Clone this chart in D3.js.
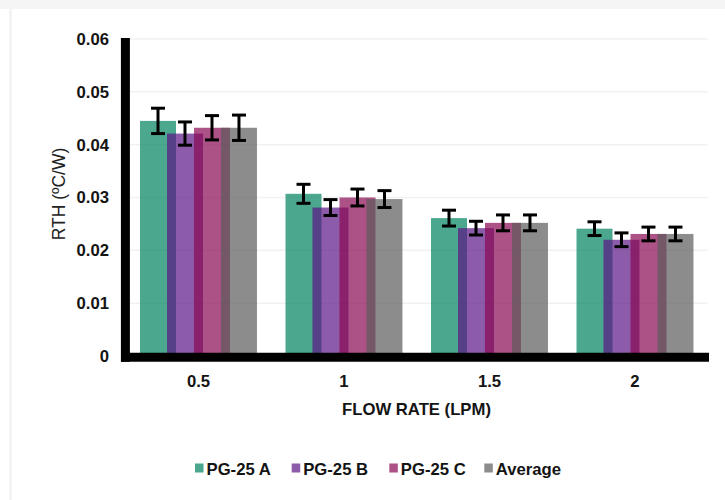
<!DOCTYPE html>
<html>
<head>
<meta charset="utf-8">
<script src="https://cdn.jsdelivr.net/npm/d3@7/dist/d3.min.js"></script>
<style>
  html, body { margin: 0; padding: 0; background: #fff; }
  svg { display: block; }
  text { font-family: "Liberation Sans", Arial, sans-serif; }
</style>
</head>
<body>
<svg id="chart" width="725" height="500"></svg>
<script>
// ---- Data ----
const categories = ["0.5", "1", "1.5", "2"];
const seriesNames = ["PG-25 A", "PG-25 B", "PG-25 C", "Average"];
const valuesA   = [0.0445, 0.0307, 0.0261, 0.0241];
const valuesB   = [0.0421, 0.0281, 0.0242, 0.0220];
const valuesC   = [0.0432, 0.0300, 0.0252, 0.0231];
const valuesAvg = [0.0432, 0.0297, 0.0252, 0.0231];
const errA   = [0.0024, 0.0018, 0.0015, 0.0013];
const errB   = [0.0022, 0.0015, 0.0013, 0.0013];
const errC   = [0.0023, 0.0016, 0.0015, 0.0013];
const errAvg = [0.0024, 0.0016, 0.0015, 0.0013];
const yTicks = [0, 0.01, 0.02, 0.03, 0.04, 0.05, 0.06];
const yTickLabels = ["0", "0.01", "0.02", "0.03", "0.04", "0.05", "0.06"];
const xTitle = "FLOW RATE (LPM)";
const yTitle = "RTH (ºC/W)";

const seriesValues = [valuesA, valuesB, valuesC, valuesAvg];
const seriesErrors = [errA, errB, errC, errAvg];
const colors = ["#00815f", "#5b1584", "#8a0854", "#5b5b5b"];

const svg = d3.select("#chart");

// frame
svg.append("rect").attr("x", 0).attr("y", 0).attr("width", 725).attr("height", 9).attr("fill", "#f5f5f5");
svg.append("rect").attr("x", 9).attr("y", 9).attr("width", 3).attr("height", 491).attr("fill", "#f3f3f3");

// ---- Scales ----
const plotLeft = 125.75, plotRight = 707.75;
const x0 = d3.scaleBand().domain(categories).range([plotLeft, plotRight]).paddingInner(0).paddingOuter(0);
const bw = x0.bandwidth();
const x1 = d3.scaleBand().domain(seriesNames).range([bw * 0.098, bw * 0.840]).padding(0);
const barW = x1.step() * 4 / 3;
const y = d3.scaleLinear().domain([0, 0.06]).range([356, 39]);

// gridlines
svg.append("g").selectAll("line").data(yTicks.slice(1)).join("line")
  .attr("x1", 130).attr("x2", plotRight)
  .attr("y1", d => y(d)).attr("y2", d => y(d))
  .attr("stroke", "#f1f1f1").attr("stroke-width", 1.5);

// ---- Bars ----
const barsG = svg.append("g");
seriesNames.forEach((name, si) => {
  barsG.append("g").selectAll("rect").data(categories).join("rect")
    .attr("x", (c) => x0(c) + x1(name))
    .attr("y", (c, i) => y(seriesValues[si][i]))
    .attr("width", barW)
    .attr("height", (c, i) => y(0) - y(seriesValues[si][i]))
    .attr("fill", colors[si])
    .attr("fill-opacity", 0.7);
});

// ---- Error bars ----
const errG = svg.append("g").attr("stroke", "#000").attr("stroke-width", 3);
seriesNames.forEach((name, si) => {
  categories.forEach((c, i) => {
    const cx = x0(c) + x1(name) + barW / 2;
    const v = seriesValues[si][i], e = seriesErrors[si][i];
    const yt = y(v + e), yb = y(v - e);
    errG.append("line").attr("x1", cx).attr("x2", cx).attr("y1", yt).attr("y2", yb);
    errG.append("line").attr("x1", cx - 7).attr("x2", cx + 7).attr("y1", yt).attr("y2", yt);
    errG.append("line").attr("x1", cx - 7).attr("x2", cx + 7).attr("y1", yb).attr("y2", yb);
  });
});

// ---- Axes ----
const FS = 16.7;
const yAxis = d3.axisLeft(y).tickValues(yTicks).tickSize(0).tickPadding(16)
  .tickFormat((d, i) => yTickLabels[i]);
const gy = svg.append("g").attr("transform", "translate(125,0)").call(yAxis);
gy.select(".domain").remove();
gy.selectAll("text").attr("font-size", FS).attr("font-weight", "bold")
  .attr("fill", "#141414").attr("font-family", "Liberation Sans, Arial, sans-serif");

const xAxis = d3.axisBottom(x0).tickSize(0).tickPadding(18);
const gx = svg.append("g").attr("transform", "translate(0,357)").call(xAxis);
gx.select(".domain").remove();
gx.selectAll("text").attr("font-size", FS).attr("font-weight", "bold")
  .attr("fill", "#141414").attr("font-family", "Liberation Sans, Arial, sans-serif");

// axis lines
svg.append("line").attr("x1", 125.4).attr("x2", 125.4).attr("y1", 38).attr("y2", 361.7)
  .attr("stroke", "#000").attr("stroke-width", 9);
svg.append("line").attr("x1", 121).attr("x2", 709).attr("y1", 357.2).attr("y2", 357.2)
  .attr("stroke", "#000").attr("stroke-width", 9);

// titles
svg.append("text").attr("x", 416.5).attr("y", 414.5)
  .attr("text-anchor", "middle").attr("font-size", FS).attr("font-weight", "bold")
  .attr("fill", "#141414").text(xTitle);
svg.append("text").attr("transform", "translate(64.5,194) rotate(-90)")
  .attr("text-anchor", "middle").attr("font-size", 17.5)
  .attr("fill", "#222").text(yTitle);

// ---- Legend ----
const legendX = [195, 291.7, 389.3, 484.3];
const lg = svg.append("g");
seriesNames.forEach((name, si) => {
  lg.append("rect").attr("x", legendX[si]).attr("y", 463.5).attr("width", 8.5).attr("height", 9)
    .attr("fill", colors[si]).attr("fill-opacity", 0.7);
  lg.append("text").attr("x", legendX[si] + 11.5).attr("y", 474.5)
    .attr("font-size", FS).attr("font-weight", "bold").attr("fill", "#141414").text(name);
});
</script>
</body>
</html>
